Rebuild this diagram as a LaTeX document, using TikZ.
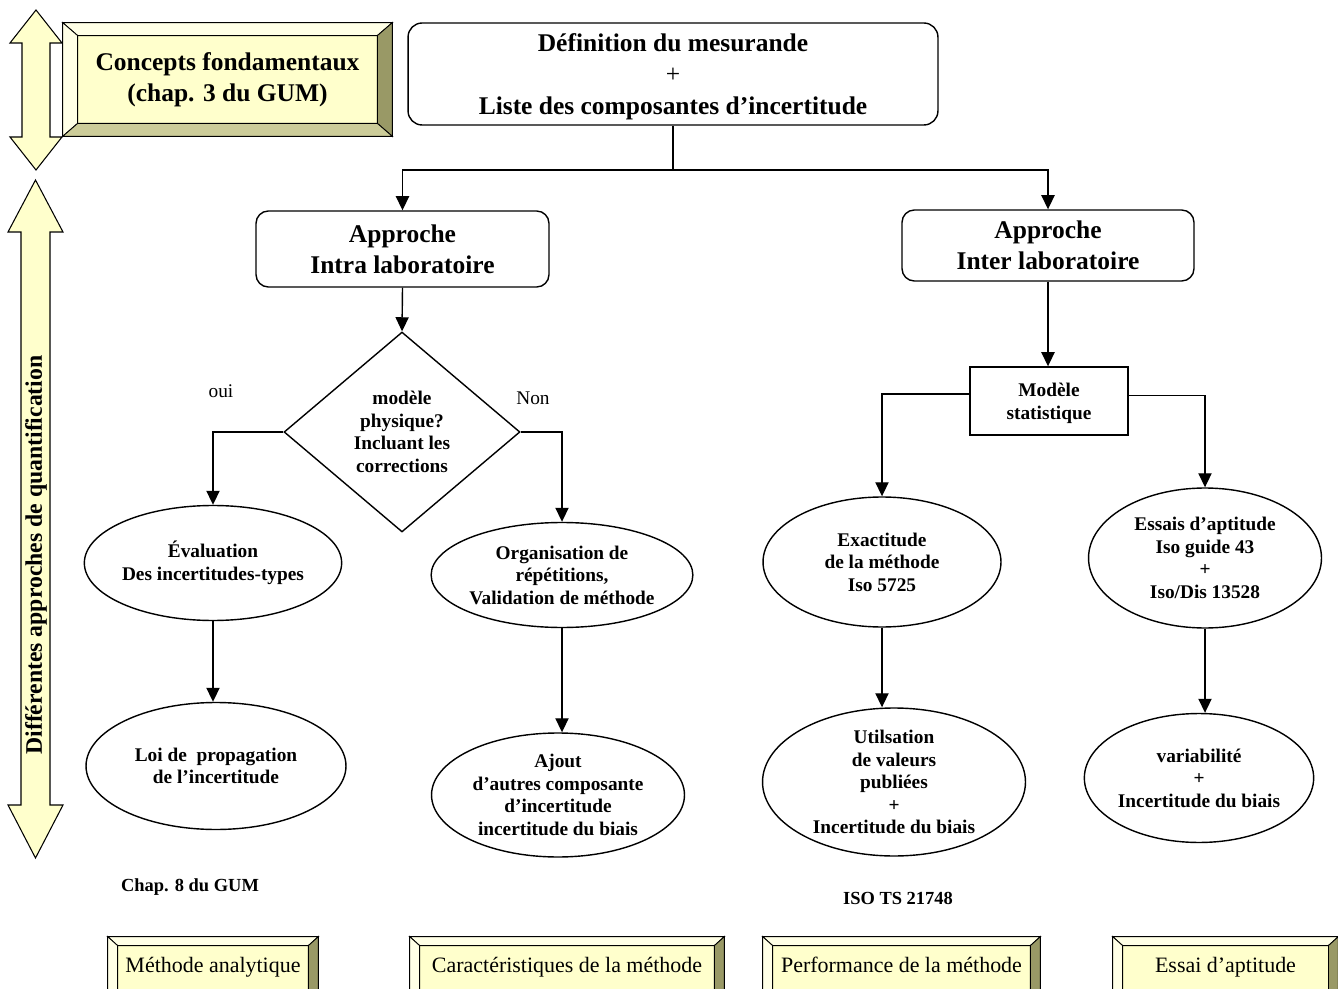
\documentclass[tikz,border=0pt]{standalone}
\usepackage{fontspec}
\setmainfont{Liberation Serif}
\usetikzlibrary{shapes.geometric,arrows.meta}

\definecolor{creme}{HTML}{FFFFCC}
\definecolor{bevclair}{HTML}{FFFFE6}
\definecolor{bevfonce}{HTML}{999966}
\definecolor{bevmoyen}{HTML}{CCCC99}

% biseau autour d'un noeud : nom, retrait x, retrait y
\newcommand{\biseau}[3]{%
  \filldraw[fill=bevclair, line width=0.5pt] (#1.north west) -- (#1.north east) -- ([xshift=-#2,yshift=-#3]#1.north east) -- ([xshift=#2,yshift=-#3]#1.north west) -- cycle;
  \filldraw[fill=bevclair, line width=0.5pt] (#1.north west) -- ([xshift=#2,yshift=-#3]#1.north west) -- ([xshift=#2,yshift=#3]#1.south west) -- (#1.south west) -- cycle;
  \filldraw[fill=bevfonce, line width=0.5pt] (#1.north east) -- ([xshift=-#2,yshift=-#3]#1.north east) -- ([xshift=-#2,yshift=#3]#1.south east) -- (#1.south east) -- cycle;
  \filldraw[fill=bevmoyen, line width=0.5pt] (#1.south west) -- ([xshift=#2,yshift=#3]#1.south west) -- ([xshift=-#2,yshift=#3]#1.south east) -- (#1.south east) -- cycle;
}

\begin{document}
\begin{tikzpicture}[x=0.02cm, y=-0.02cm, line width=0.8pt,
    >={Triangle[width=7.5pt,length=8pt]},
    titre/.style={draw, rounded corners=8pt, align=center, inner sep=0pt,
      font=\fontsize{14.5}{17.8}\selectfont\bfseries},
    boite/.style={draw, align=center, inner sep=0pt,
      font=\fontsize{11}{13}\selectfont\bfseries},
    bulle/.style={draw, ellipse, align=center, inner sep=0pt,
      font=\fontsize{11}{12.8}\selectfont\bfseries},
    losange/.style={draw, diamond, align=center, inner sep=0pt,
      font=\fontsize{11}{12.8}\selectfont\bfseries},
    bevelbox/.style={fill=creme, draw, line width=0.5pt, align=center, inner sep=0pt,
      text height=0.7em, text depth=0.2em},
    etiq/.style={font=\fontsize{11}{13}\selectfont},
    fleche/.style={fill=creme, draw, line width=0.6pt}]

    \useasboundingbox (0,0) rectangle (1338,989);
    \clip (0,0) rectangle (1338,989);

    % Fleches doubles a gauche
    \filldraw[fleche] (36,10) -- (62,43) -- (50,43) -- (50,137) -- (62,137) -- (36,170)
      -- (10,137) -- (22,137) -- (22,43) -- (10,43) -- cycle;
    \filldraw[fleche] (35.5,180) -- (63,232) -- (50,232) -- (50,805) -- (63,805) -- (35.5,858)
      -- (8,805) -- (21,805) -- (21,232) -- (8,232) -- cycle;
    \node[rotate=90, font=\fontsize{13.5}{16}\selectfont\bfseries] (quantif) at (36,555)
      {Différentes approches de quantification};

    % Concepts fondamentaux
    \node[bevelbox, text height=, text depth=, minimum width=6.58cm, minimum height=2.26cm,
      font=\fontsize{14.5}{17.8}\selectfont\bfseries] (concepts) at (227.5,79.5)
      {Concepts fondamentaux\\(chap. 3 du GUM)};
    \biseau{concepts}{0.3cm}{0.26cm}

    % Boites principales
    \node[titre, minimum width=10.6cm, minimum height=2.04cm, text depth=0pt] (def) at (673,74)
      {Définition du mesurande\\{\mdseries +}\\Liste des composantes d’incertitude};
    \node[titre, rounded corners=7pt, minimum width=5.86cm, minimum height=1.52cm] (intra) at (402.5,249)
      {Approche\\Intra laboratoire};
    \node[titre, rounded corners=7pt, minimum width=5.84cm, minimum height=1.42cm] (inter) at (1048,245.5)
      {Approche\\Inter laboratoire};

    % Branche intra
    \node[losange, minimum width=4.72cm, minimum height=4cm] (physique) at (402,432)
      {modèle\\physique?\\Incluant les\\corrections};
    \node[etiq] (oui) at (221,391) {oui};
    \node[etiq] (non) at (533,398) {Non};
    \node[bulle, minimum width=4.94cm, minimum height=2.3cm] (evaluation) at (213,563)
      {Évaluation\\Des incertitudes-types};
    \node[bulle, minimum width=4.84cm, minimum height=2.1cm] (organisation) at (562,575)
      {Organisation de\\répétitions,\\Validation de méthode};
    \node[bulle, minimum width=5.2cm, minimum height=2.54cm] (loi) at (216,766)
      {Loi de\ \ propagation\\de l’incertitude};
    \node[bulle, minimum width=5.06cm, minimum height=2.48cm] (ajout) at (558,795)
      {Ajout\\d’autres composante\\d’incertitude\\incertitude du biais};

    % Branche inter
    \node[boite, minimum width=3.16cm, minimum height=1.36cm, text depth=0pt] (modele) at (1049,401)
      {Modèle\\statistique};
    \node[bulle, minimum width=4.76cm, minimum height=2.6cm] (exactitude) at (882,562)
      {Exactitude\\de la méthode\\Iso 5725};
    \node[bulle, minimum width=5.26cm, minimum height=2.96cm] (utilisation) at (894,782)
      {Utilsation\\de valeurs\\publiées\\+\\Incertitude du biais};
    \node[bulle, minimum width=4.66cm, minimum height=2.8cm] (essais) at (1205,558)
      {Essais d’aptitude\\Iso guide 43\\+\\Iso/Dis 13528};
    \node[bulle, minimum width=4.42cm, minimum height=2.58cm] (variabilite) at (1199,778)
      {variabilité\\+\\Incertitude du biais};

    % Renvois
    \node[font=\fontsize{10.5}{12}\selectfont\bfseries] (chap8) at (190,887) {Chap. 8 du GUM};
    \node[font=\fontsize{10.5}{12}\selectfont\bfseries] (iso) at (898,898) {ISO TS 21748};

    % Connecteurs
    \coordinate (split) at (673,170);
    \draw (def.south) -- (split);
    \draw[->] (split) -| (intra.north);
    \draw[->] (split) -| (inter.north);
    \draw[->] (intra.south) -- (physique.north);
    \draw[->] (physique.west) -| (evaluation.north);
    \draw[->] (physique.east) -| (organisation.north);
    \draw[->] (evaluation.south) -- (evaluation.south |- loi.north);
    \draw[->] (organisation.south) -- (organisation.south |- ajout.north);
    \draw[->] (inter.south) -- (inter.south |- modele.north);
    \draw[->] ([yshift=4pt]modele.west) -| (exactitude.north);
    \draw[->] ([yshift=3pt]modele.east) -| (essais.north);
    \draw[->] (exactitude.south) -- (exactitude.south |- utilisation.north);
    \draw[->] (essais.south) -- (essais.south |- variabilite.north);

    % Boites du bas
    \node[bevelbox, minimum width=4.2cm, minimum height=1.26cm,
      font=\fontsize{12.5}{15}\selectfont] (analytique) at (213,968.5) {Méthode analytique};
    \biseau{analytique}{0.2cm}{0.18cm}
    \node[bevelbox, minimum width=6.28cm, minimum height=1.26cm,
      font=\fontsize{12.5}{15}\selectfont] (caracteristiques) at (567,968.5) {Caractéristiques de la méthode};
    \biseau{caracteristiques}{0.2cm}{0.18cm}
    \node[bevelbox, minimum width=5.54cm, minimum height=1.26cm,
      font=\fontsize{12.5}{15}\selectfont] (performance) at (901.5,968.5) {Performance de la méthode};
    \biseau{performance}{0.2cm}{0.18cm}
    \node[bevelbox, minimum width=4.5cm, minimum height=1.26cm,
      font=\fontsize{12.5}{15}\selectfont] (aptitude) at (1225.5,968.5) {Essai d’aptitude};
    \biseau{aptitude}{0.2cm}{0.18cm}
\end{tikzpicture}
\end{document}
